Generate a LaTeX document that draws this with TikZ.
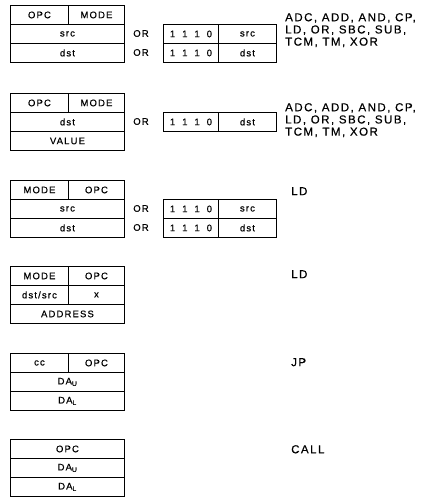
\documentclass[tikz,border=0pt]{standalone}
\usepackage{fontspec}
\newfontfamily\bxfont{Liberation Sans}[LetterSpace=12,FakeBold=0.6]
\newfontfamily\lbfont{Liberation Sans}[LetterSpace=13,FakeBold=0.6]
\newcommand{\onezero}{1\hspace{7pt}1\hspace{7pt}1\hspace{7pt}0}
\begin{document}
\begin{tikzpicture}[x=1pt,y=-1pt,
  cell/.style={draw=black, line width=0.9pt, inner sep=0pt, anchor=north west,
    minimum height=19pt, font=\bxfont\fontsize{9.5}{11}\selectfont},
  full/.style={cell, minimum width=114pt},
  lhalf/.style={cell, minimum width=58pt},
  rhalf/.style={cell, minimum width=56pt},
  bits/.style={cell, minimum width=55pt},
  fld/.style={cell, minimum width=58pt},
  ortext/.style={font=\bxfont\fontsize{9.5}{11}\selectfont, inner sep=0pt},
  lab/.style={anchor=north west, inner sep=0pt, align=left,
    font=\lbfont\fontsize{11.5}{12.2}\selectfont}
]
\useasboundingbox (0,0) rectangle (423,497);
% ---- block 1
\node[lhalf] (a1) at (10,5) {OPC};
\node[rhalf] (a2) at (68,5) {MODE};
\node[full] (a3) at (10,24) {src};
\node[full] (a4) at (10,43) {dst};
\node[ortext] (aor1) at (141,33.5) {OR};
\node[ortext] (aor2) at (141,52.5) {OR};
\node[bits] (ab1) at (163,24) {\onezero};
\node[fld] (af1) at (218,24) {src};
\node[bits] (ab2) at (163,43) {\onezero};
\node[fld] (af2) at (218,43) {dst};
\node[lab] (al) at (285,13) {ADC, ADD, AND, CP,\\LD, OR, SBC, SUB,\\TCM, TM, XOR};
% ---- block 2
\node[lhalf] (b1) at (10,93) {OPC};
\node[rhalf] (b2) at (68,93) {MODE};
\node[full] (b3) at (10,112) {dst};
\node[full] (b4) at (10,131) {VALUE};
\node[ortext] (bor) at (141,121.5) {OR};
\node[bits] (bb1) at (163,112) {\onezero};
\node[fld] (bf1) at (218,112) {dst};
\node[lab] (bl) at (285,103) {ADC, ADD, AND, CP,\\LD, OR, SBC, SUB,\\TCM, TM, XOR};
% ---- block 3
\node[lhalf] (c1) at (10,180) {MODE};
\node[rhalf] (c2) at (68,180) {OPC};
\node[full] (c3) at (10,199) {src};
\node[full] (c4) at (10,218) {dst};
\node[ortext] (cor1) at (141,208.5) {OR};
\node[ortext] (cor2) at (141,227.5) {OR};
\node[bits] (cb1) at (163,199) {\onezero};
\node[fld] (cf1) at (218,199) {src};
\node[bits] (cb2) at (163,218) {\onezero};
\node[fld] (cf2) at (218,218) {dst};
\node[lab] (cl) at (291,187) {LD};
% ---- block 4
\node[lhalf] (d1) at (10,266) {MODE};
\node[rhalf] (d2) at (68,266) {OPC};
\node[lhalf] (d3) at (10,285) {dst/src};
\node[rhalf] (d4) at (68,285) {x};
\node[full] (d5) at (10,304) {ADDRESS};
\node[lab] (dl) at (291,270) {LD};
% ---- block 5
\node[lhalf] (e1) at (10,353) {cc};
\node[rhalf] (e2) at (68,353) {OPC};
\node[full] (e3) at (10,372) {DA\textsubscript{U}};
\node[full] (e4) at (10,391) {DA\textsubscript{L}};
\node[lab] (el) at (291,358) {JP};
% ---- block 6
\node[full] (f1) at (10,439) {OPC};
\node[full] (f2) at (10,458) {DA\textsubscript{U}};
\node[full] (f3) at (10,477) {DA\textsubscript{L}};
\node[lab] (fl) at (291,445) {CALL};
\end{tikzpicture}
\end{document}
